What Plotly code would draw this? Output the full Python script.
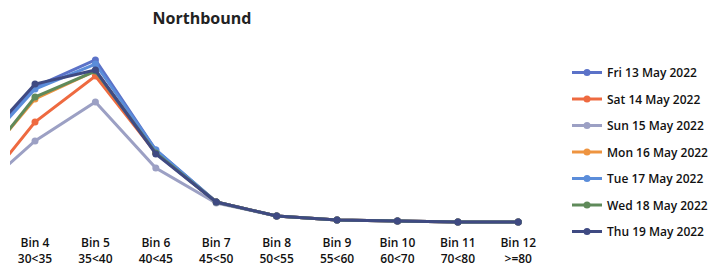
import plotly.graph_objects as go

bins = ["Bin 3", "Bin 4", "Bin 5", "Bin 6", "Bin 7", "Bin 8", "Bin 9", "Bin 10", "Bin 11", "Bin 12"]
ranges = ["25<30", "30<35", "35<40", "40<45", "45<50", "50<55", "55<60", "60<70", "70<80", ">=80"]

fri = [14.0, 27.4, 32.8, 14.8, 4.4, 1.6, 0.8, 0.6, 0.4, 0.4]
sat = [5.4, 20.4, 29.6, 14.2, 4.4, 1.6, 0.8, 0.6, 0.4, 0.4]
sun = [5.8, 16.6, 24.4, 11.2, 4.2, 1.6, 0.8, 0.6, 0.4, 0.4]
mon = [10.6, 25.0, 30.6, 14.4, 4.4, 1.6, 0.8, 0.6, 0.4, 0.4]
tue = [13.6, 27.0, 32.0, 14.8, 4.4, 1.6, 0.8, 0.6, 0.4, 0.4]
wed = [10.2, 25.4, 30.6, 14.2, 4.4, 1.6, 0.8, 0.6, 0.4, 0.4]
thu = [14.6, 28.0, 30.8, 14.0, 4.4, 1.6, 0.8, 0.6, 0.4, 0.4]

series = [
    ("Fri 13 May 2022", fri, "#5B72C8"),
    ("Sat 14 May 2022", sat, "#EE6A40"),
    ("Sun 15 May 2022", sun, "#9CA0C4"),
    ("Mon 16 May 2022", mon, "#EE9440"),
    ("Tue 17 May 2022", tue, "#5B8DDA"),
    ("Wed 18 May 2022", wed, "#5F8A5A"),
    ("Thu 19 May 2022", thu, "#3F4A82"),
]

xs = list(range(len(bins)))
ticktext = [f"{b}<br>{r}" for b, r in zip(bins, ranges)]

W, H = 717, 269
OFF = 8  # browser default body margin

fig = go.Figure()
for i, (name, vals, col) in enumerate(series):
    fig.add_trace(go.Scatter(
        x=xs, y=vals, name=name, mode="lines+markers",
        line=dict(color=col, width=3),
        marker=dict(color=col, size=7),
        legendgroup=f"g{i}",
        cliponaxis=True,
    ))

fig.update_layout(
    width=W, height=H,
    margin=dict(l=10 - OFF, r=W - (540 - OFF), t=35 - OFF, b=H - (230 - OFF), autoexpand=False),
    paper_bgcolor="white", plot_bgcolor="white",
    title=dict(text="<b>Northbound</b>", x=(202 - OFF) / W, xanchor="center",
               y=1 - (18 - OFF) / H, yanchor="middle",
               font=dict(family="Open Sans", size=16, color="#222222")),
    showlegend=True,
    legend=dict(xref="container", yref="container", x=(567 - OFF) / W, xanchor="left",
                y=1 - (58 - OFF) / H, yanchor="top", tracegroupgap=7.5, maxheight=260,
                font=dict(family="Open Sans", size=12, color="#111111", weight=600),
                bgcolor="rgba(0,0,0,0)"),
    font=dict(family="Open Sans", size=12, color="#111111"),
)
fig.update_xaxes(range=[0.586, 9.36], tickmode="array", tickvals=xs, ticktext=ticktext,
                 showgrid=False, zeroline=False, showline=False, ticks="", automargin=False,
                 ticklabelstandoff=4,
                 tickfont=dict(family="Open Sans", size=12, color="#111111", weight=600))
fig.update_yaxes(range=[-1.2, 37.8], showgrid=False, zeroline=False,
                 showticklabels=False, showline=False, ticks="", automargin=False)

fig.write_html("out.html")
